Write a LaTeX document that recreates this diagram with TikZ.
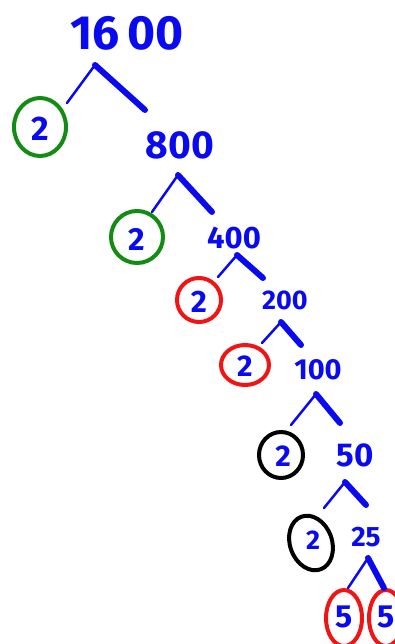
\documentclass[tikz,border=0pt]{standalone}
\usepackage{fontspec}
\setmainfont{Fira Sans}
\definecolor{inkblue}{RGB}{10,10,240}
\definecolor{inkgreen}{RGB}{20,140,20}
\definecolor{inkred}{RGB}{240,20,20}
\tikzset{
  num/.style={text=inkblue, inner sep=0pt, font=\fontsize{#1}{#1}\selectfont\bfseries},
  thinline/.style={draw=inkblue, line width=2.5pt, line cap=round},
  thickline/.style={draw=inkblue, line width=6pt, line cap=round},
  ring/.style={draw=#1, line width=4pt},
}
\begin{document}
\begin{tikzpicture}[x=1pt,y=-1pt]
\useasboundingbox (0,0) rectangle (394,644);
% numbers
\node[num=48] (n1600) at (127,33) {16\,00};
\node[num=39] (n800) at (180,145) {800};
\node[num=31] (n400) at (234,238) {400};
\node[num=27] (n200) at (285,300) {200};
\node[num=29] (n100) at (318,370) {100};
\node[num=33] (n50) at (355,455) {50};
\node[num=28] (n25) at (366,537) {25};
% circled factors
\draw[ring=inkgreen] (40,127) ellipse (26 and 29);
\node[num=34] (f1) at (40,129) {2};
\draw[ring=inkgreen] (137,237) ellipse (26 and 26);
\node[num=32] (f2) at (137,239) {2};
\draw[ring=inkred] (199,300) ellipse (22 and 22);
\node[num=31] (f3) at (199,302) {2};
\draw[ring=inkred] (245,365) ellipse (24 and 20);
\node[num=30] (f4) at (245,366) {2};
\draw[ring=black] (281,455) ellipse (22 and 23);
\node[num=30] (f5) at (283,456) {2};
\draw[ring=black,rotate around={20:(311,543)}] (311,543) ellipse (21 and 28);
\node[num=27] (f6) at (313,540) {2};
\draw[ring=inkred] (344,618) ellipse (18 and 28);
\node[num=32] (f7) at (344,617) {5};
\draw[ring=inkred] (386,618) ellipse (17 and 28);
\node[num=32] (f8) at (386,617) {5};
% fork coordinates
\coordinate (a1) at (95,65);  \coordinate (l1) at (67,103);  \coordinate (r1) at (145,110);
\coordinate (a2) at (178,175); \coordinate (l2) at (152,212); \coordinate (r2) at (212,212);
\coordinate (a3) at (237,255); \coordinate (l3) at (218,277); \coordinate (r3) at (263,278);
\coordinate (a4) at (281,322); \coordinate (l4) at (262,343); \coordinate (r4) at (301,345);
\coordinate (a5) at (316,394); \coordinate (l5) at (291,425); \coordinate (r5) at (340,423);
\coordinate (a6) at (345,482); \coordinate (l6) at (324,508); \coordinate (r6) at (366,505);
\coordinate (a7) at (368,558); \coordinate (l7) at (348,588); \coordinate (r7) at (384,588);
\foreach \i in {1,...,7}{
  \draw[thinline] (a\i) -- (l\i);
  \draw[thickline] (a\i) -- (r\i);
}
\end{tikzpicture}
\end{document}
